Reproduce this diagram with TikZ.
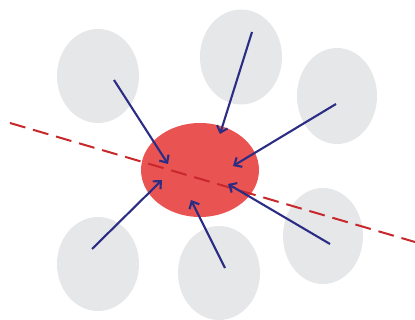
\documentclass[tikz,border=0pt]{standalone}
\usetikzlibrary{shapes.geometric,arrows.meta}
\definecolor{blobgray}{HTML}{E6E7E9}
\definecolor{blobred}{HTML}{E95453}
\definecolor{dashred}{HTML}{C8282B}
\definecolor{arrownavy}{HTML}{2B2C83}
\begin{document}
\begin{tikzpicture}[x=1pt,y=-1pt,
  graybox/.style={ellipse,fill=blobgray,draw=none,inner sep=0pt},
  redbox/.style={ellipse,fill=blobred,draw=none,inner sep=0pt,minimum width=118pt,minimum height=94pt},
  pull/.style={draw=arrownavy,line width=2.1pt,-{Straight Barb[length=6pt,width=11pt,line width=2.1pt]}},
  axisline/.style={draw=dashred,line width=2pt,dash pattern=on 16pt off 8pt}]
\useasboundingbox (0,0) rectangle (415,320);
% gray ellipses
\node[graybox,minimum width=82pt,minimum height=94pt] (g1) at (98,76) {};
\node[graybox,minimum width=82pt,minimum height=95pt] (g2) at (241,57) {};
\node[graybox,minimum width=80pt,minimum height=96pt] (g3) at (337,96) {};
\node[graybox,minimum width=82pt,minimum height=94pt] (g4) at (98,264) {};
\node[graybox,minimum width=82pt,minimum height=94pt] (g5) at (219,273) {};
\node[graybox,minimum width=80pt,minimum height=96pt] (g6) at (323,236) {};
% red ellipse
\node[redbox] (r) at (200,170) {};
% dashed axis
\coordinate (da) at (10,123);
\coordinate (db) at (415,242);
\draw[axisline] (da) -- (db);
% arrow ends
\coordinate (s1) at (114,80);
\coordinate (e1) at (168,164);
\coordinate (s2) at (252,32);
\coordinate (e2) at (220,134);
\coordinate (s3) at (336,104);
\coordinate (e3) at (233,166);
\coordinate (s4) at (92,249);
\coordinate (e4) at (162,180);
\coordinate (s5) at (225,268);
\coordinate (e5) at (191,200);
\coordinate (s6) at (330,244);
\coordinate (e6) at (228,184);
\draw[pull] (s1) -- (e1);
\draw[pull] (s2) -- (e2);
\draw[pull] (s3) -- (e3);
\draw[pull] (s4) -- (e4);
\draw[pull] (s5) -- (e5);
\draw[pull] (s6) -- (e6);
\end{tikzpicture}
\end{document}
